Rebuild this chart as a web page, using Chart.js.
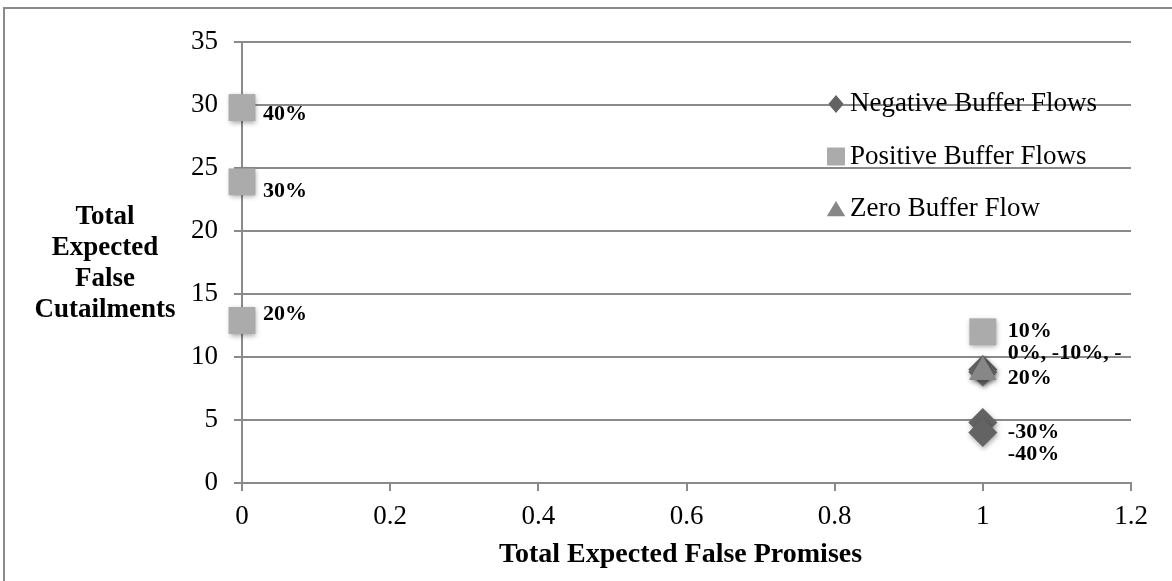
<!DOCTYPE html>
<html>
<head>
<meta charset="utf-8">
<script src="https://cdn.jsdelivr.net/npm/chart.js@4.4.1/dist/chart.umd.min.js"></script>
<style>
  html, body { margin: 0; padding: 0; background: #ffffff; }
  #wrap { width: 1172px; height: 581px; position: relative; }
</style>
</head>
<body>
<div id="wrap"><canvas id="c" width="1172" height="581"></canvas></div>
<script>
// x = total expected false promises, y = total expected false curtailments
const negativeX = [1, 1, 1, 1];
const negativeY = [9.0, 8.8, 4.8, 4.0];
const negativeTags = ['', '', '-30%', '-40%'];

const positiveX = [1, 0, 0, 0];
const positiveY = [12, 12.9, 23.9, 29.8];
const positiveTags = ['10%', '20%', '30%', '40%'];

const zeroX = [1];
const zeroY = [8.8];
const zeroTags = ['0%, -10%, -\n20%'];

const seriesNames = ['Negative Buffer Flows', 'Positive Buffer Flows', 'Zero Buffer Flow'];
const xTicks = [0, 0.2, 0.4, 0.6, 0.8, 1, 1.2];
const yTicks = [0, 5, 10, 15, 20, 25, 30, 35];
const xTitle = 'Total Expected False Promises';
const yTitleLines = ['Total', 'Expected', 'False', 'Cutailments'];

// styling
const GRID = '#8a8a8a';
const SERIF = '"Liberation Serif", "Times New Roman", serif';
const colors = { negative: '#636363', positive: '#ababab', zero: '#878787' };
// per-label nudges [dx, dy] from the marker centre
const tagNudges = [
  [[0, 0], [0, 0], [25, 10], [25, 22]],
  [[25, 0], [21, -6], [21, 9], [21, 7]],
  [[25, -6]]
];
const tagSets = [negativeTags, positiveTags, zeroTags];

function pts(xs, ys) { return xs.map((x, i) => ({ x: x, y: ys[i] })); }

function markerPath(ctx, style, x, y, r) {
  ctx.beginPath();
  if (style === 'rectRot') {
    ctx.moveTo(x - r * 0.85, y); ctx.lineTo(x, y - r); ctx.lineTo(x + r * 0.85, y); ctx.lineTo(x, y + r);
  } else if (style === 'rect') {
    ctx.rect(x - r, y - r, 2 * r, 2 * r);
  } else {
    ctx.moveTo(x, y - r); ctx.lineTo(x + r * 1.15, y + r * 0.9); ctx.lineTo(x - r * 1.15, y + r * 0.9);
  }
  ctx.closePath();
}

const decor = {
  id: 'decor',
  beforeDraw(chart) {
    const ctx = chart.ctx;
    ctx.save();
    ctx.fillStyle = '#ffffff';
    ctx.fillRect(0, 0, chart.width, chart.height);
    ctx.strokeStyle = GRID;
    ctx.lineWidth = 2;
    ctx.beginPath();
    ctx.moveTo(4, chart.height + 2);
    ctx.lineTo(4, 8);
    ctx.lineTo(chart.width + 2, 8);
    ctx.stroke();
    ctx.restore();
  },
  beforeDatasetsDraw(chart) {
    const ctx = chart.ctx;
    ctx.save();
    ctx.shadowColor = 'rgba(0,0,0,0.35)';
    ctx.shadowBlur = 5;
    ctx.shadowOffsetX = 1;
    ctx.shadowOffsetY = 2;
  },
  afterDatasetsDraw(chart) {
    const ctx = chart.ctx;
    ctx.restore();
    // point tags
    ctx.save();
    ctx.fillStyle = '#000';
    ctx.font = 'bold 22px ' + SERIF;
    ctx.textAlign = 'left';
    ctx.textBaseline = 'middle';
    tagSets.forEach((tags, di) => {
      const meta = chart.getDatasetMeta(di);
      tags.forEach((t, i) => {
        if (!t) return;
        const el = meta.data[i];
        const [dx, dy] = tagNudges[di][i];
        const lines = t.split('\n');
        const lh = 25;
        const y0 = el.y + dy - (lines.length - 1) * lh / 2;
        lines.forEach((ln, k) => ctx.fillText(ln, el.x + dx, y0 + k * lh));
      });
    });
    ctx.restore();
  },
  afterDraw(chart) {
    const ctx = chart.ctx;
    const area = chart.chartArea;
    ctx.save();
    ctx.fillStyle = '#000';
    // axis titles
    ctx.font = 'bold 28px ' + SERIF;
    ctx.textAlign = 'center';
    ctx.textBaseline = 'alphabetic';
    ctx.fillText(xTitle, (area.left + area.right) / 2 - 6, 562);
    ctx.font = 'bold 27px ' + SERIF;
    ctx.textBaseline = 'middle';
    yTitleLines.forEach((ln, i) => ctx.fillText(ln, 105, 217 + i * 31));
    // legend
    const lx = area.right - 295, ly = area.top + 62, step = 52.5;
    ctx.font = '27px ' + SERIF;
    ctx.textAlign = 'left';
    chart.data.datasets.forEach((ds, i) => {
      const cy = ly + i * step;
      ctx.fillStyle = ds.backgroundColor;
      const r = ds.pointStyle === 'rect' ? 9 : ds.pointStyle === 'rectRot' ? 9 : 8;
      markerPath(ctx, ds.pointStyle, lx, cy, r);
      ctx.fill();
      ctx.fillStyle = '#000';
      ctx.fillText(ds.label, lx + 14, cy);
    });
    ctx.restore();
  }
};

new Chart(document.getElementById('c'), {
  type: 'scatter',
  data: {
    datasets: [
      { label: seriesNames[0], data: pts(negativeX, negativeY), pointStyle: 'rectRot', clip: false,
        pointRadius: 14.5, backgroundColor: colors.negative, borderColor: colors.negative, borderWidth: 0, order: 3 },
      { label: seriesNames[1], data: pts(positiveX, positiveY), pointStyle: 'rect', clip: false,
        pointRadius: 19, backgroundColor: colors.positive, borderColor: colors.positive, borderWidth: 0, order: 2 },
      { label: seriesNames[2], data: pts(zeroX, zeroY), pointStyle: 'triangle', clip: false,
        pointRadius: 16, backgroundColor: colors.zero, borderColor: colors.zero, borderWidth: 0, order: 1 }
    ]
  },
  options: {
    responsive: false,
    animation: false,
    devicePixelRatio: 1,
    layout: { padding: { left: 0, top: 42, right: 41, bottom: 0 } },
    plugins: { legend: { display: false }, tooltip: { enabled: false } },
    scales: {
      x: {
        type: 'linear', min: 0, max: 1.2,
        afterBuildTicks(scale) { scale.ticks = xTicks.map(v => ({ value: v })); },
        afterFit(scale) { scale.height = 98; },
        ticks: { color: '#000', font: { family: SERIF, size: 27 }, padding: 10,
                 callback: v => String(v) },
        grid: { drawOnChartArea: false, drawTicks: true, tickLength: 8, color: GRID, lineWidth: 2 },
        border: { display: true, color: GRID, width: 2 }
      },
      y: {
        type: 'linear', min: 0, max: 35,
        afterBuildTicks(scale) { scale.ticks = yTicks.map(v => ({ value: v })); },
        afterFit(scale) { scale.width = 242; },
        ticks: { color: '#000', font: { family: SERIF, size: 27 }, padding: 16,
                 callback: v => String(v) },
        grid: { color: GRID, lineWidth: 2, tickLength: 8, drawTicks: true },
        border: { display: true, color: GRID, width: 2 }
      }
    }
  },
  plugins: [decor]
});
</script>
</body>
</html>
